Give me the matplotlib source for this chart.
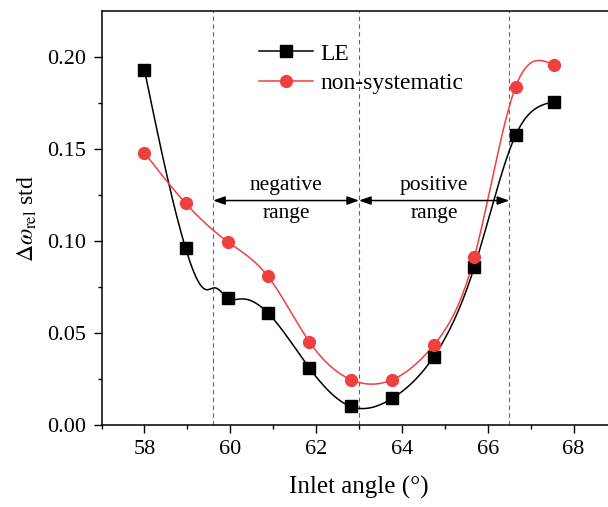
import matplotlib
matplotlib.use('Agg')
import matplotlib.pyplot as plt
import numpy as np

plt.rcParams['font.family'] = 'Liberation Serif'
plt.rcParams['mathtext.fontset'] = 'stix'

# marker data
angle = [58.0, 58.96, 59.94, 60.87, 61.84, 62.81, 63.78, 64.74, 65.69, 66.65, 67.54]
le = [0.193, 0.096, 0.069, 0.061, 0.031, 0.010, 0.0145, 0.037, 0.086, 0.1576, 0.1757]
nonsys = [0.148, 0.1205, 0.0996, 0.081, 0.0453, 0.0246, 0.0246, 0.0433, 0.0915, 0.1839, 0.1957]

# extra knots (it wiggles between the markers)
le_curve_x = [58.0, 58.96, 59.45, 59.65, 59.94, 60.25, 60.87, 61.84, 62.81, 63.78, 64.74, 65.69, 66.65, 67.54]
le_curve_y = [0.193, 0.096, 0.0735, 0.0745, 0.069, 0.0685, 0.061, 0.031, 0.010, 0.0145, 0.037, 0.086, 0.1576, 0.1757]

bounds = [59.6, 63.0, 66.5]


def natural_spline(x, y, n=400):
    x = np.asarray(x, float)
    y = np.asarray(y, float)
    k = len(x)
    h = np.diff(x)
    A = np.zeros((k, k))
    b = np.zeros(k)
    A[0, 0] = 1
    A[-1, -1] = 1
    for i in range(1, k - 1):
        A[i, i - 1] = h[i - 1]
        A[i, i] = 2 * (h[i - 1] + h[i])
        A[i, i + 1] = h[i]
        b[i] = 6 * ((y[i + 1] - y[i]) / h[i] - (y[i] - y[i - 1]) / h[i - 1])
    M = np.linalg.solve(A, b)
    xs = np.linspace(x[0], x[-1], n)
    j = np.clip(np.searchsorted(x, xs) - 1, 0, k - 2)
    t0 = x[j + 1] - xs
    t1 = xs - x[j]
    hj = h[j]
    ys = (M[j] * t0**3 + M[j + 1] * t1**3) / (6 * hj) \
        + (y[j] / hj - M[j] * hj / 6) * t0 + (y[j + 1] / hj - M[j + 1] * hj / 6) * t1
    return xs, ys


fig = plt.figure(figsize=(6.08, 5.07), dpi=100)
ax = fig.add_axes([0.167, 0.162, 0.847, 0.816])

red = '#ef4040'

xs, ys = natural_spline(le_curve_x, le_curve_y)
ax.plot(xs, ys, color='black', lw=1.1)
ax.plot(angle, le, 's', color='black', ms=8, zorder=3)

xs, ys = natural_spline(angle, nonsys)
ax.plot(xs, ys, color=red, lw=1.1)
ax.plot(angle, nonsys, 'o', color=red, ms=8.5, zorder=3)

for b in bounds:
    ax.axvline(b, color='#666666', ls=(0, (4, 3)), lw=0.8, zorder=1)

arrow_y = 0.122
for a, c in [(bounds[0], bounds[1]), (bounds[1], bounds[2])]:
    ax.annotate('', xy=(a, arrow_y), xytext=(c, arrow_y),
                arrowprops=dict(arrowstyle='<|-|>,head_length=0.7,head_width=0.25',
                                color='black', lw=1.1, shrinkA=0, shrinkB=0))
ax.text(61.3, 0.130, 'negative', ha='center', va='center', fontsize=15.5)
ax.text(61.3, 0.1147, 'range', ha='center', va='center', fontsize=15.5)
ax.text(64.75, 0.130, 'positive', ha='center', va='center', fontsize=15.5)
ax.text(64.75, 0.1147, 'range', ha='center', va='center', fontsize=15.5)

# legend handles
h1, = ax.plot([], [], '-s', color='black', lw=1.1, ms=8)
h2, = ax.plot([], [], '-o', color=red, lw=1.1, ms=8.5)
fig.legend([h1, h2], ['LE', 'non-systematic'], loc='upper left',
           bbox_to_anchor=(0.426, 0.915), frameon=False, fontsize=17,
           handlelength=2.3, handletextpad=0.3, labelspacing=0.35,
           borderpad=0, borderaxespad=0)

ax.set_xlim(57, 69)
ax.set_ylim(0, 0.225)
ax.set_xticks([58, 60, 62, 64, 66, 68])
ax.set_xticks(np.arange(57, 69, 1), minor=True)
ax.set_yticks([0.0, 0.05, 0.10, 0.15, 0.20])
ax.set_yticks(np.arange(0.025, 0.225, 0.05), minor=True)
ax.set_yticklabels(['0.00', '0.05', '0.10', '0.15', '0.20'])
ax.tick_params(which='major', direction='out', length=5.5, width=1, labelsize=16, pad=5.5)
ax.tick_params(which='minor', direction='out', length=3, width=1)
for s in ax.spines.values():
    s.set_linewidth(1.1)

ax.set_xlabel('Inlet angle (°)', fontsize=18, labelpad=12)
ax.set_ylabel(r'$\Delta\omega_{\rm rel}$ std', fontsize=17, labelpad=6)

fig.savefig('out.png', dpi=100)
